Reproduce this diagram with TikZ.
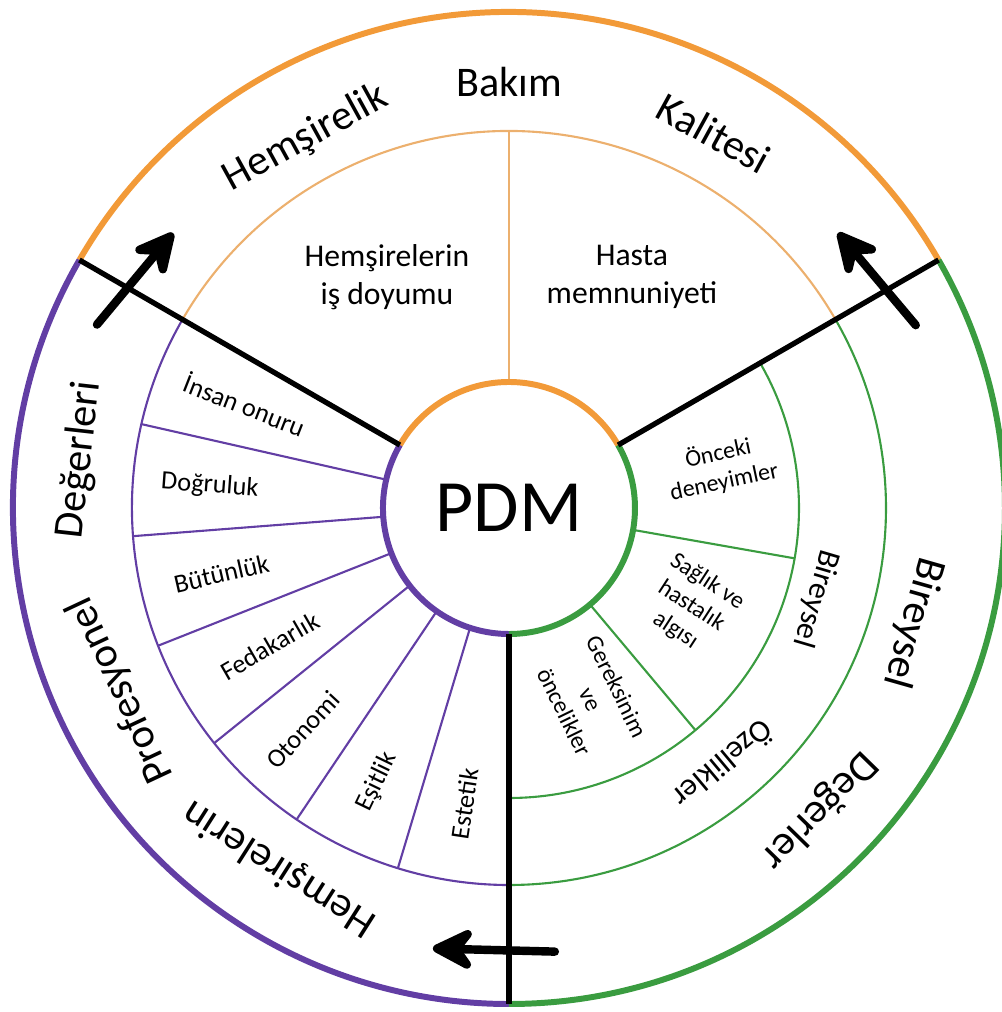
\documentclass[tikz,border=0pt]{standalone}
\usepackage{fontspec}
\setmainfont{Carlito}
\usetikzlibrary{arrows.meta}

\definecolor{pdmorange}{RGB}{242,154,56}
\definecolor{pdmpurple}{RGB}{98,62,164}
\definecolor{pdmgreen}{RGB}{58,156,64}
\definecolor{pdmtan}{RGB}{236,176,110}

\begin{document}
\begin{tikzpicture}[
  thickring/.style={line width=1.7pt},
  thinring/.style={line width=0.6pt},
  split/.style={line width=1.5pt, black},
  flow/.style={line width=2.4pt, line cap=round,
    -{Stealth[length=15pt,width=15pt,inset=5.5pt,round]}},
  band/.style={font=\fontsize{12}{14}\selectfont},
  inband/.style={font=\fontsize{9}{11}\selectfont},
  seg/.style={font=\fontsize{7.5}{9}\selectfont},
  cell/.style={font=\fontsize{6.8}{8.3}\selectfont, align=center},
]

  \useasboundingbox (-5.09,-5.04) rectangle (4.93,5.08);

  \node[circle, minimum size=2.52cm, inner sep=0, outer sep=0,
    font=\fontsize{21}{25}\selectfont] (pdm) at (0,0) {PDM};
  \node[circle, minimum size=9.92cm, inner sep=0, outer sep=0] (rim) at (0,0) {};

  % thin rings and spokes
  \draw[thinring, pdmtan] (30:3.77) arc[start angle=30, end angle=150, radius=3.77];
  \draw[thinring, pdmtan] (pdm.90) -- (90:3.77);
  \draw[thinring, pdmpurple] (150:3.77) arc[start angle=150, end angle=270, radius=3.77];
  \foreach \k in {1,...,6}
    \draw[thinring, pdmpurple] (pdm.{150+\k*120/7}) -- ({150+\k*120/7}:3.77);
  \draw[thinring, pdmgreen] (-90:3.77) arc[start angle=-90, end angle=30, radius=3.77];
  \draw[thinring, pdmgreen] (-90:2.9) arc[start angle=-90, end angle=30, radius=2.9];
  \foreach \a in {-50,-10}
    \draw[thinring, pdmgreen] (pdm.\a) -- (\a:2.9);

  % thick coloured circles
  \foreach \r in {1.26,4.96} {
    \draw[thickring, pdmorange] (30:\r) arc[start angle=30, end angle=150, radius=\r];
    \draw[thickring, pdmpurple] (150:\r) arc[start angle=150, end angle=270, radius=\r];
    \draw[thickring, pdmgreen] (-90:\r) arc[start angle=-90, end angle=30, radius=\r];
  }

  % section borders
  \draw[split] (pdm.150) -- (rim.150);
  \draw[split] (pdm.30) -- (rim.30);
  \draw[split] (pdm.270) -- (rim.270);

  % arrows
  \coordinate (ultail) at (156:4.51);
  \coordinate (ultip) at (140.7:4.34);
  \coordinate (urtail) at (24.2:4.46);
  \coordinate (urtip) at (39.9:4.29);
  \coordinate (bttail) at (275.9:4.46);
  \coordinate (bttip) at (260.2:4.47);
  \draw[flow] (ultail) -- (ultip);
  \draw[flow] (urtail) -- (urtip);
  \draw[flow] (bttail) -- (bttip);

  % outer band
  \node[band, rotate=28.8] (hemsirelik) at (118.8:4.22) {Hemşirelik};
  \node[band] (bakim) at (90:4.26) {Bakım};
  \node[band, rotate=-28.7] (kalitesi) at (61.3:4.27) {Kalitesi};
  \node[band, rotate=83.6] (degerleri) at (173.6:4.32) {Değerleri};
  \node[band, rotate=115.1] (profesyonel) at (205.1:4.29) {Profesyonel};
  \node[band, rotate=147.5] (hemsirelerin) at (237.5:4.27) {Hemşirelerin};
  \node[band, rotate=-105.9] (bireysel) at (-15.9:4.2) {Bireysel};
  \node[band, rotate=-134.3] (degerler) at (-44.3:4.33) {Değerler};

  % green middle band
  \node[inband, rotate=-106.4] (bireyselin) at (-16.4:3.2) {Bireysel};
  \node[inband, rotate=-140.1] (ozellikler) at (-50.1:3.35) {Özellikler};

  % top cells
  \node[inband, align=center] (isdoyumu) at (-1.22,2.31) {Hemşirelerin\\iş doyumu};
  \node[inband, align=center] (memnuniyet) at (1.23,2.31) {Hasta\\memnuniyeti};

  % professional values
  \foreach \lab/\r [count=\i] in {İnsan onuru/2.84, Doğruluk/3.0, Bütünlük/2.95,
      Fedakarlık/2.76, Otonomi/3.03, Eşitlik/3.04, Estetik/2.99}
    \node[seg, rotate={(\i-0.5)*120/7-30}] (val\i) at ({150+(\i-0.5)*120/7}:\r) {\lab};

  % individual characteristics
  \node[cell, rotate=12] (onceki) at (10.9:2.16) {Önceki\\deneyimler};
  \node[cell, rotate=-33] (saglik) at (-28.3:2.07) {Sağlık ve\\hastalık\\algısı};
  \node[cell, rotate=-64] (gereksinim) at (-66.8:2.08) {Gereksinim\\ve\\öncelikler};

\end{tikzpicture}
\end{document}
